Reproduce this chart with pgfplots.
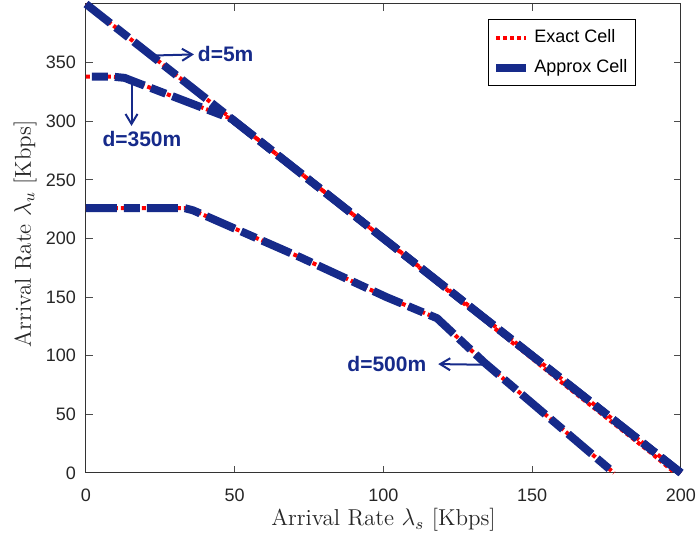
\documentclass[border=0pt]{standalone}
\usepackage{fontspec}
\newfontfamily\arial{Liberation Sans}
\usepackage{pgfplots}
\pgfplotsset{compat=1.18}
\usetikzlibrary{arrows.meta}
\definecolor{appblue}{RGB}{22,42,138}
\begin{document}
\begin{tikzpicture}
\begin{axis}[name=ax, scale only axis, width=297.5pt, height=234.5pt,
 xmin=0, xmax=200, ymin=0, ymax=400,
 xtick={0,50,...,200}, ytick={0,50,...,350},
 tick align=inside, major tick length=3.5pt,
 axis line style={black!80, line width=0.5pt},
 every tick/.style={black!70, line width=0.5pt},
 tick label style={font=\arial\fontsize{9}{10}\selectfont, text=black!85},
 /pgf/number format/assume math mode=true,
 xticklabel style={yshift=-4.5pt},
 yticklabel style={xshift=-1.5pt},
 xlabel={Arrival Rate $\lambda_s$ [Kbps]},
 ylabel={Arrival Rate $\lambda_u$ [Kbps]},
 label style={font=\fontsize{11.5}{14}\selectfont, text=black!85},
 xlabel style={at={(axis description cs:0.5,-0.1002)}, anchor=center},
 ylabel style={at={(axis description cs:-0.1025,0.51)}, anchor=center},
 clip=false,
 legend style={at={(1,1)}, anchor=north east, xshift=-22.5pt, yshift=-7.5pt,
   font=\arial\fontsize{9}{10}\selectfont, draw=black, line width=0.5pt,
   inner xsep=2pt, inner ysep=3pt, row sep=3pt, cells={anchor=west}},
 legend image code/.code={\draw[#1] (0pt,0pt) -- (15pt,0pt);},
 exact/.style={red, line width=2pt, dash pattern=on 2pt off 1.5pt, line join=round},
 approx/.style={appblue, line width=4pt, dash pattern=on 15.5pt off 3.5pt on 8pt off 3.5pt, line join=round},
]
% Exact Cell (red dotted)
\addplot[exact] coordinates {(0,400) (49,302) (200,0)};
\addlegendentry{Exact Cell}
\addplot[exact, forget plot] coordinates {(0,338) (9,338) (13,337) (16,334) (49,302) (100,200) (130,138.5) (160,77) (190,17) (198,0)};
\addplot[exact, forget plot] coordinates {(0,226) (33,226) (36,224) (72,184) (101,150) (118,132) (134,94) (177.5,0)};
% Approx Cell (blue dash-dot)
\addplot[approx] coordinates {(0,400) (49,302) (200,0)};
\addlegendentry{Approx Cell\hspace{9pt}}
\addplot[approx, dash phase=16.09pt, forget plot] coordinates {(0,338) (9,338) (13,337) (16,334) (49,302) (200,0)};
\addplot[approx, forget plot] coordinates {(0,226) (33,226) (36,224) (72,184) (101,150) (118,132) (134,94) (177.5,0)};
% annotations
\draw[appblue, line width=1pt, -{Straight Barb[length=5pt,width=6pt]}] (axis cs:22,356) -- (axis cs:36.3,357);
\node[anchor=west, text=appblue, font=\arial\bfseries\fontsize{10.5}{12}\selectfont, inner sep=0pt] at (axis cs:37.5,357) {d=5m};
\draw[appblue, line width=1pt, -{Straight Barb[length=5pt,width=6pt]}] (axis cs:15.3,334) -- (axis cs:15.3,296);
\node[anchor=center, text=appblue, font=\arial\bfseries\fontsize{10.5}{12}\selectfont, inner sep=0pt] at (axis cs:18.8,284.5) {d=350m};
\draw[appblue, line width=1pt, -{Straight Barb[length=5pt,width=6pt]}] (axis cs:134.1,92.3) -- (axis cs:118.4,92.9);
\node[anchor=east, text=appblue, font=\arial\bfseries\fontsize{10.5}{12}\selectfont, inner sep=0pt] at (axis cs:114.5,92.9) {d=500m};
\end{axis}
\pgfresetboundingbox
\path[use as bounding box] ([xshift=-43pt,yshift=-31pt]ax.south west) rectangle ([xshift=8pt,yshift=2pt]ax.north east);
\end{tikzpicture}
\end{document}
